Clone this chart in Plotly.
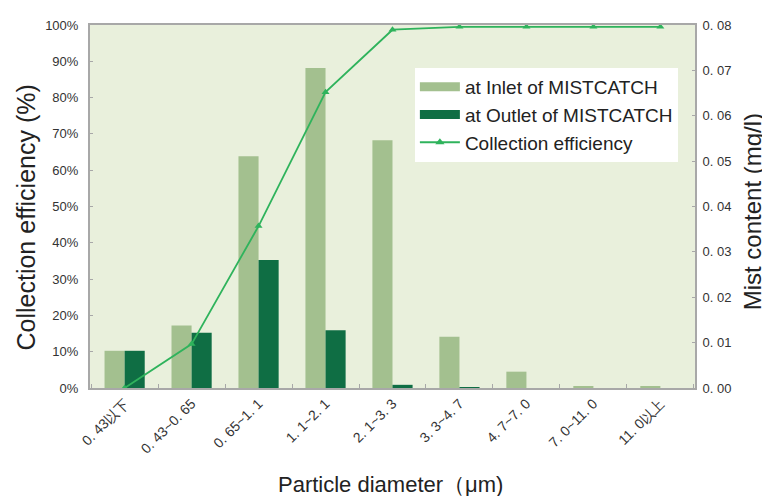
import plotly.graph_objects as go

categories = ["0. 43以下", "0. 43~0. 65", "0. 65~1. 1", "1. 1~2. 1", "2. 1~3. 3",
              "3. 3~4. 7", "4. 7~7. 0", "7. 0~11. 0", "11. 0以上"]
inlet = [0.0082, 0.0138, 0.0511, 0.0705, 0.0546, 0.0113, 0.0036, 0.0003, 0.0003]
outlet = [0.0082, 0.0122, 0.0282, 0.0127, 0.0007, 0.0001, 0.0, 0.0, 0.0]
efficiency = [0.0, 12.1, 44.6, 81.5, 98.7, 99.5, 99.5, 99.5, 99.5]

pct_ticks = list(range(0, 101, 10))
pct_text = [f"{v}%" for v in pct_ticks]
mist_ticks = [0.0, 0.01, 0.02, 0.03, 0.04, 0.05, 0.06, 0.07, 0.08]
mist_text = ["0. 00", "0. 01", "0. 02", "0. 03", "0. 04", "0. 05", "0. 06", "0. 07", "0. 08"]

inlet_color = "#a3c08f"
outlet_color = "#0f6e44"
line_color = "#2fb35c"

fig = go.Figure()
fig.add_trace(go.Bar(x=categories, y=inlet, name="at Inlet of MISTCATCH",
                     marker=dict(color=inlet_color, line=dict(width=0)), yaxis="y",
                     showlegend=False))
fig.add_trace(go.Bar(x=categories, y=outlet, name="at Outlet of MISTCATCH",
                     marker=dict(color=outlet_color, line=dict(width=0)), yaxis="y",
                     showlegend=False))
fig.add_trace(go.Scatter(x=categories, y=efficiency, name="Collection efficiency",
                         mode="lines+markers", yaxis="y2",
                         line=dict(color=line_color, width=1.8),
                         marker=dict(symbol="triangle-up", size=7, color=line_color),
                         showlegend=False))
# legend entries (wide rectangle symbols like the original)
fig.add_trace(go.Scatter(x=[None], y=[None], mode="lines", name="at Inlet of MISTCATCH",
                         line=dict(color=inlet_color, width=9), yaxis="y2"))
fig.add_trace(go.Scatter(x=[None], y=[None], mode="lines", name="at Outlet of MISTCATCH",
                         line=dict(color=outlet_color, width=9), yaxis="y2"))
fig.add_trace(go.Scatter(x=[None], y=[None], mode="lines+markers", name="Collection efficiency",
                         line=dict(color=line_color, width=1.8),
                         marker=dict(symbol="triangle-up", size=8, color=line_color), yaxis="y2"))

axis_font = dict(family="Liberation Sans, Arial, sans-serif", size=13, color="#333333")
title_font = dict(family="Liberation Sans, Arial, sans-serif", size=25, color="#222222")

# the page places the figure 8px in from the top-left, so size/margins compensate
fig.update_layout(
    width=762, height=488,
    margin=dict(l=82, r=75, t=17, b=108, autoexpand=False),
    paper_bgcolor="white",
    plot_bgcolor="#e9f0dc",
    barmode="group",
    bargap=0.4,
    bargroupgap=0,
    font=dict(family="Liberation Sans, Arial, sans-serif", color="#222222"),
    xaxis=dict(
        type="category", tickangle=-45, tickfont=dict(axis_font, size=14),
        showline=True, linecolor="#a8a8a8", linewidth=2, mirror=True,
        ticks="inside", tickson="boundaries", ticklen=4, tickcolor="#a8a8a8",
        showgrid=False, automargin=False,
    ),
    yaxis=dict(
        side="right", range=[0, 0.08], tickvals=mist_ticks, ticktext=mist_text,
        tickfont=axis_font, showgrid=False, zeroline=False,
        showline=True, linecolor="#a8a8a8", linewidth=2,
        ticks="inside", ticklen=3, tickcolor="#a8a8a8", automargin=False,
        ticklabelstandoff=3,
    ),
    yaxis2=dict(
        side="left", overlaying="y", range=[0, 100], tickvals=pct_ticks, ticktext=pct_text,
        tickfont=axis_font, showgrid=False, zeroline=False,
        showline=True, linecolor="#a8a8a8", linewidth=2,
        ticks="inside", ticklen=3, tickcolor="#a8a8a8", automargin=False,
        ticklabelstandoff=7,
    ),
    legend=dict(
        x=0.537, y=0.8815, xanchor="left", yanchor="top",
        bgcolor="white", borderwidth=0,
        font=dict(size=19, color="#222222"),
        tracegroupgap=0, itemwidth=40,
    ),
    annotations=[
        dict(text="Collection efficiency (%)", xref="paper", yref="paper",
             x=-0.105, y=0.471, textangle=-90, showarrow=False, font=title_font,
             xanchor="center", yanchor="middle"),
        dict(text="Mist content (mg/l)", xref="paper", yref="paper",
             x=1.0965, y=0.485, textangle=-90, showarrow=False, font=dict(title_font, size=24),
             xanchor="center", yanchor="middle"),
        dict(text="Particle diameter（μm)", xref="paper", yref="paper",
             x=0.496, y=-0.267, showarrow=False, font=dict(title_font, size=22),
             xanchor="center", yanchor="middle"),
    ],
)

fig.write_html("out.html")
